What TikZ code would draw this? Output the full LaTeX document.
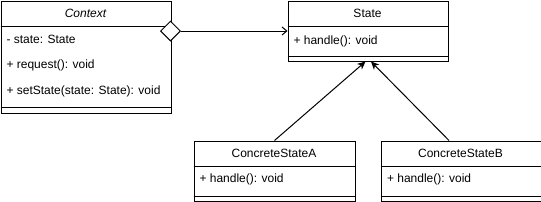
\documentclass[tikz,border=0pt]{standalone}
\usepackage{fontspec}
\setmainfont{Liberation Sans}
\usetikzlibrary{arrows.meta,calc,shapes.geometric}

\begin{document}
\begin{tikzpicture}[x=0.75pt,y=-0.75pt,font=\fontsize{9}{11}\selectfont,line width=0.75pt,
  cls/.style={draw,anchor=north west,inner sep=0pt,minimum width=#1},
  mem/.style={anchor=west,inner sep=0pt},
  agg/.style={diamond,draw,fill=white,inner sep=0pt,minimum width=15pt,minimum height=15pt},
  assoc/.style={-{Straight Barb[length=3.5pt,width=6pt,line width=0.75pt]}},
  gen/.style={-{Stealth[length=6pt,width=5.5pt,inset=1.8pt]}}]
  \useasboundingbox (0,0) rectangle (541,201);
  % classes
  \node[cls=127.5pt,minimum height=84pt](ctx) at (0.5,0.5){};
  \node[cls=120pt,minimum height=45pt](state) at (287.5,0.5){};
  \node[cls=120.75pt,minimum height=45pt](csa) at (193.5,140.5){};
  \node[cls=120pt,minimum height=45pt](csb) at (380.5,140.5){};
  \draw (0.5,26.5)--(170.5,26.5); \draw (0.5,107.5)--(170.5,107.5);
  \draw (287.5,26.5)--(447.5,26.5); \draw (287.5,56.5)--(447.5,56.5);
  \draw (193.5,166.5)--(354.5,166.5); \draw (193.5,196.5)--(354.5,196.5);
  \draw (380.5,166.5)--(540.5,166.5); \draw (380.5,196.5)--(540.5,196.5);
  % names and members
  \node(ctxn) at (85.5,13.5){\itshape Context};
  \node[mem](ctx1) at (6,39.5){- state: State};
  \node[mem](ctx2) at (6,65.5){+ request(): void};
  \node[mem](ctx3) at (6,91.5){+ setState(state: State): void};
  \node(staten) at (367.5,13.5){State};
  \node[mem](state1) at (293,41.5){+ handle(): void};
  \node(csan) at (274,153.5){ConcreteStateA};
  \node[mem](csa1) at (199,179.5){+ handle(): void};
  \node(csbn) at (460.5,153.5){ConcreteStateB};
  \node[mem](csb1) at (386.5,179.5){+ handle(): void};
  % relations
  \node[agg](hold) at (170.5,31){};
  \draw[assoc](hold.east)--(hold.east -| state.west);
  \draw[gen](csa.north)--($(state.south)+(-2.5,0)$);
  \draw[gen]($(csb.north)+(-12,0)$)--($(state.south)+(3,0)$);
\end{tikzpicture}
\end{document}
